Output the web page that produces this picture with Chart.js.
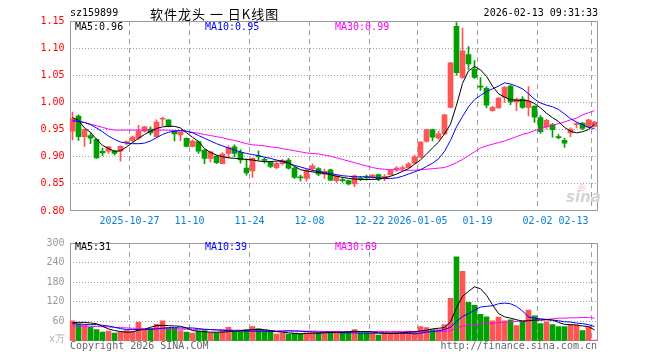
<!DOCTYPE html>
<html>
<head>
<meta charset="utf-8">
<script src="https://cdn.jsdelivr.net/npm/chart.js@4.4.1/dist/chart.umd.min.js"></script>
<style>
  body { margin: 0; background: #fff; }
  #wrap { position: relative; width: 660px; height: 360px; overflow: hidden;
          font-family: "DejaVu Sans Mono", monospace; font-size: 10px; }
  canvas { position: absolute; left: 0; }
  .t { position: absolute; white-space: pre; line-height: 10px; }
</style>
</head>
<body>
<div id="wrap">
  <canvas id="kline" width="660" height="232" style="top:0;width:660px;height:232px"></canvas>
  <canvas id="volume" width="660" height="128" style="top:232px;width:660px;height:128px"></canvas>

  <div class="t" style="left:70px;top:8px;color:#000">sz159899</div>
  <div class="t" style="left:150px;top:4px;line-height:15px;font:13px 'Noto Sans CJK SC',sans-serif;letter-spacing:1px;color:#000">软件龙头 一 日K线图</div>
  <div class="t" style="right:62px;top:8px;color:#000">2026-02-13 09:31:33</div>

  <div class="t" style="left:75px;top:22px;color:#000">MA5:0.96</div>
  <div class="t" style="left:205px;top:22px;color:#0000ff">MA10:0.95</div>
  <div class="t" style="left:335px;top:22px;color:#ff00ff">MA30:0.99</div>

  <div class="t" style="left:75px;top:242px;color:#000">MA5:31</div>
  <div class="t" style="left:205px;top:242px;color:#0000ff">MA10:39</div>
  <div class="t" style="left:335px;top:242px;color:#ff00ff">MA30:69</div>

  <div class="t" style="left:578px;top:183px;font:bold 9px 'DejaVu Sans',sans-serif;line-height:9px;color:#f3b0b0">◎</div>
  <div class="t" style="left:566px;top:190px;font:italic bold 15px 'DejaVu Sans',sans-serif;line-height:15px;color:#d4d4d4">sina</div>
  <div class="t" style="left:49px;top:334px;color:#aaa">x万</div>
  <div class="t" style="left:70px;top:341px;color:#666">Copyright 2026 SINA.COM</div>
  <div class="t" style="right:63px;top:341px;color:#666">http://finance.sina.com.cn</div>
</div>

<script>
// trading days shown on the chart
const dates = [
  '2025-10-13','2025-10-14','2025-10-15','2025-10-16','2025-10-17','2025-10-20','2025-10-21','2025-10-22','2025-10-23','2025-10-24',
  '2025-10-27','2025-10-28','2025-10-29','2025-10-30','2025-10-31','2025-11-03','2025-11-04','2025-11-05','2025-11-06','2025-11-07',
  '2025-11-10','2025-11-11','2025-11-12','2025-11-13','2025-11-14','2025-11-17','2025-11-18','2025-11-19','2025-11-20','2025-11-21',
  '2025-11-24','2025-11-25','2025-11-26','2025-11-27','2025-11-28','2025-12-01','2025-12-02','2025-12-03','2025-12-04','2025-12-05',
  '2025-12-08','2025-12-09','2025-12-10','2025-12-11','2025-12-12','2025-12-15','2025-12-16','2025-12-17','2025-12-18','2025-12-19',
  '2025-12-22','2025-12-23','2025-12-24','2025-12-25','2025-12-26','2025-12-29','2025-12-30','2025-12-31',
  '2026-01-05','2026-01-06','2026-01-07','2026-01-08','2026-01-09','2026-01-12','2026-01-13','2026-01-14','2026-01-15','2026-01-16',
  '2026-01-19','2026-01-20','2026-01-21','2026-01-22','2026-01-23','2026-01-26','2026-01-27','2026-01-28','2026-01-29','2026-01-30',
  '2026-02-02','2026-02-03','2026-02-04','2026-02-05','2026-02-06','2026-02-09','2026-02-10','2026-02-11','2026-02-12','2026-02-13'
];

const opens = [
  .947,.975,.937,.939,.932,.910,.910,.910,.910,.926,
  .930,.934,.947,.951,.937,.969,.968,.947,.940,.934,
  .919,.928,.912,.897,.901,.887,.906,.918,.908,.879,
  .874,.901,.895,.890,.880,.887,.894,.879,.862,.860,
  .878,.878,.868,.876,.856,.857,.856,.850,.860,.862,
  .862,.867,.862,.867,.877,.878,.880,.888,.899,.928,
  .950,.934,.942,.991,1.140,1.046,1.088,1.061,1.030,1.026,
  .985,.990,1.009,1.030,1.001,1.006,.991,.993,.972,.955,
  .959,.937,.930,.944,.959,.962,.955,.956
];
const highs = [
  .982,.977,.951,.944,.933,.916,.919,.912,.920,.929,
  .938,.958,.956,.955,.968,.973,.968,.948,.946,.935,
  .931,.929,.913,.910,.902,.907,.920,.922,.913,.896,
  .898,.911,.898,.891,.890,.895,.897,.881,.866,.877,
  .887,.880,.877,.877,.866,.861,.857,.866,.864,.866,
  .867,.868,.867,.876,.882,.883,.889,.903,.928,.951,
  .951,.947,.978,1.074,1.147,1.137,1.103,1.077,1.046,1.029,
  .993,1.009,1.029,1.032,1.008,1.011,1.029,.994,.976,.969,
  .961,.941,.934,.953,.963,.963,.969,.965
];
const lows = [
  .931,.930,.919,.924,.897,.902,.906,.903,.892,.922,
  .927,.932,.945,.940,.936,.957,.955,.929,.929,.918,
  .918,.906,.887,.890,.887,.887,.898,.900,.888,.866,
  .862,.893,.888,.880,.878,.885,.877,.860,.855,.855,
  .873,.865,.860,.856,.852,.853,.848,.845,.856,.857,
  .860,.856,.856,.866,.873,.875,.879,.887,.898,.927,
  .929,.932,.941,.990,1.050,1.044,1.061,1.044,1.022,.990,
  .984,.989,1.000,.996,.985,.989,.975,.963,.943,.951,
  .936,.933,.917,.937,.953,.950,.953,.955
];
const closes = [
  .970,.937,.950,.934,.898,.907,.918,.906,.919,.928,
  .936,.947,.955,.944,.964,.970,.956,.942,.945,.919,
  .929,.910,.897,.909,.889,.905,.917,.906,.894,.870,
  .897,.900,.893,.882,.888,.893,.879,.862,.861,.875,
  .883,.868,.873,.857,.865,.856,.850,.865,.859,.861,
  .866,.858,.864,.875,.878,.879,.887,.900,.927,.950,
  .936,.942,.977,1.073,1.055,1.095,1.071,1.046,1.028,.995,
  .991,1.008,1.028,1.001,1.006,.991,1.002,.973,.946,.967,
  .950,.935,.925,.951,.960,.952,.968,.964
];

// moving-average lines as drawn in the picture
const ma5 = [
  .972,.967,.953,.945,.932,.921,.915,.910,.911,.918,
  .926,.934,.941,.947,.952,.955,.956,.956,.953,.944,
  .936,.928,.915,.908,.903,.900,.898,.897,.896,.895,
  .894,.892,.891,.891,.892,.892,.889,.882,.876,.874,
  .872,.871,.869,.867,.864,.862,.860,.859,.858,.858,
  .858,.859,.861,.864,.868,.873,.878,.886,.894,.905,
  .916,.927,.942,.960,.995,1.035,1.058,1.066,1.060,1.048,
  1.030,1.016,1.010,1.005,1.004,1.004,1.003,.998,.990,.980,
  .972,.965,.954,.947,.944,.946,.950,.960
];
const ma10 = [
  .966,.965,.963,.959,.953,.946,.938,.932,.927,.925,
  .924,.924,.925,.929,.935,.941,.945,.947,.948,.947,
  .944,.939,.934,.929,.924,.920,.916,.912,.909,.906,
  .904,.902,.899,.897,.894,.891,.888,.884,.881,.878,
  .875,.873,.871,.869,.867,.865,.864,.863,.863,.863,
  .862,.861,.860,.860,.861,.864,.868,.872,.876,.882,
  .888,.896,.910,.930,.955,.974,.992,1.005,1.013,1.020,
  1.025,1.030,1.036,1.034,1.030,1.025,1.016,1.006,.999,.995,
  .992,.987,.979,.970,.964,.959,.954,.952
];
const ma30 = [
  .968,.966,.963,.960,.957,.954,.951,.949,.949,.949,
  .949,.949,.949,.949,.949,.949,.949,.948,.948,.947,
  .945,.943,.941,.939,.937,.935,.932,.930,.927,.924,
  .922,.921,.920,.918,.917,.915,.913,.911,.909,.907,
  .906,.905,.903,.901,.898,.895,.892,.889,.886,.883,
  .880,.878,.877,.876,.876,.875,.875,.875,.876,.877,
  .878,.879,.880,.884,.889,.895,.902,.909,.916,.920,
  .923,.926,.929,.933,.937,.941,.944,.948,.952,.955,
  .958,.961,.964,.968,.971,.977,.981,.985
];

// volume, in 万
const volumes = [
  62,52,49,42,35,27,30,24,27,32,
  29,57,35,39,51,62,40,39,32,27,
  24,30,32,25,25,32,42,29,29,35,
  44,38,32,29,21,24,21,24,22,25,
  25,25,25,29,28,28,28,35,26,26,
  26,18,26,26,26,26,30,29,44,41,
  35,35,50,131,258,213,118,109,82,74,
  62,73,62,65,47,60,95,77,53,59,
  50,44,44,49,49,32,44,3
];
const volMa5 = [
  56,57,57,55,53,45,37,32,29,27,
  28,33,36,42,47,48,47,46,45,40,
  32,30,28,27,27,27,29,30,31,33,
  35,35,35,32,29,27,25,23,22,23,
  24,24,25,26,27,27,28,30,29,29,
  28,25,24,23,24,25,27,28,31,33,
  37,39,41,58,102,137,152,166,160,140,
  111,84,74,70,65,61,62,64,64,65,
  64,57,51,50,49,46,44,34
];
const volMa10 = [
  53,52,51,50,50,48,46,42,38,35,
  35,35,35,36,37,39,41,41,40,40,
  40,38,36,35,34,33,32,31,31,30,
  30,30,30,29,29,30,31,31,30,29,
  28,27,27,27,26,25,25,25,24,24,
  24,24,24,24,24,24,23,22,24,27,
  29,31,35,42,60,75,84,94,104,106,
  108,114,116,114,106,92,73,70,68,66,
  64,62,59,58,55,53,50,44
];
const volMa30 = [
  46,46,45,45,44,44,43,42,41,40,
  39,39,38,38,38,37,37,37,36,36,
  36,35,35,35,34,34,34,33,33,33,
  33,32,32,32,31,31,31,30,30,30,
  30,30,29,29,29,29,29,29,29,29,
  29,29,29,29,29,29,29,29,29,29,
  29,29,29,32,40,45,48,50,52,54,
  55,56,57,59,60,61,63,64,65,66,
  68,70,70,71,71,72,72,70
];

// date axis labels
const xTickDates = ['2025-10-27','2025-11-10','2025-11-24','2025-12-08','2025-12-22','2026-01-05','2026-01-19','2026-02-02','2026-02-13'];
const xTickText  = ['2025-10-27','11-10','11-24','12-08','12-22','2026-01-05','01-19','02-02','02-13'];
const volTicks = [60, 120, 180, 240, 300];

const UP = '#ff5555';
const DOWN = '#00a000';
const GRID = '#a0a0a0';
const FONT = { family: 'DejaVu Sans Mono', size: 10 };

Chart.defaults.font.family = FONT.family;
Chart.defaults.font.size = FONT.size;

const candleColors = dates.map((d, i) => closes[i] >= opens[i] ? UP : DOWN);
const gridIdx = xTickDates.map(d => dates.indexOf(d));
// the last label is pulled back inside the frame
const labelAt = {};
gridIdx.forEach((idx, k) => { labelAt[Math.min(idx, dates.length - 4)] = xTickText[k]; });

const frame = {
  id: 'frame',
  beforeDatasetsDraw(chart) {
    const { ctx, chartArea: a } = chart;
    ctx.save();
    ctx.strokeStyle = '#999';
    ctx.lineWidth = 1;
    ctx.strokeRect(70.5, a.top + 0.5, 527, a.bottom - a.top - 1);
    ctx.restore();
  }
};

function xScale(showLabels, height) {
  return {
    offset: true,
    grid: {
      offset: true,
      drawTicks: false,
      color: ctx => gridIdx.includes(ctx.index) ? GRID : 'transparent'
    },
    border: { display: false, dash: [5, 4] },
    ticks: {
      display: showLabels,
      autoSkip: false,
      maxRotation: 0,
      padding: 4,
      labelOffset: -3,
      color: '#0a80d8',
      callback: (v, i) => labelAt[i] || ''
    },
    afterFit: s => { s.height = height; }
  };
}

function lineSet(label, data, color) {
  return { type: 'line', label, data, borderColor: color, borderWidth: 1,
           pointRadius: 0, fill: false, tension: 0, order: 0 };
}

new Chart(document.getElementById('kline'), {
  type: 'bar',
  data: {
    labels: dates,
    datasets: [
      lineSet('MA5', ma5, '#000000'),
      lineSet('MA10', ma10, '#0000ff'),
      lineSet('MA30', ma30, '#ff00ff'),
      {
        label: 'body',
        data: dates.map((d, i) => [opens[i], closes[i]]),
        backgroundColor: candleColors,
        barThickness: 5,
        minBarLength: 1,
        grouped: false,
        order: 1
      },
      {
        label: 'wick',
        data: dates.map((d, i) => [lows[i], highs[i]]),
        backgroundColor: candleColors,
        barThickness: 1,
        grouped: false,
        order: 2
      }
    ]
  },
  options: {
    responsive: false,
    animation: false,
    layout: { padding: { top: 21, right: 62.5, left: 0, bottom: 0 } },
    plugins: { legend: { display: false }, tooltip: { enabled: false } },
    scales: {
      x: xScale(true, 21),
      y: {
        min: 0.80,
        max: 1.15,
        ticks: { stepSize: 0.05, padding: 5, color: '#ff0000', callback: v => v.toFixed(2) },
        grid: {
          drawTicks: false,
          color: ctx => (ctx.index === 0 || ctx.index === 7) ? 'transparent' : GRID
        },
        border: { display: false, dash: [1, 2] },
        afterFit: s => { s.width = 69.5; }
      }
    }
  },
  plugins: [frame]
});

new Chart(document.getElementById('volume'), {
  type: 'bar',
  data: {
    labels: dates,
    datasets: [
      lineSet('MA5', volMa5, '#000000'),
      lineSet('MA10', volMa10, '#0000ff'),
      lineSet('MA30', volMa30, '#ff00ff'),
      {
        label: 'volume',
        data: volumes,
        backgroundColor: candleColors,
        barThickness: 5,
        grouped: false,
        order: 1
      }
    ]
  },
  options: {
    responsive: false,
    animation: false,
    layout: { padding: { top: 8, right: 62.5, left: 0, bottom: 0 } },
    plugins: { legend: { display: false }, tooltip: { enabled: false } },
    scales: {
      x: xScale(false, 19),
      y: {
        min: 0,
        max: 300,
        afterBuildTicks: s => { s.ticks = [0].concat(volTicks).map(v => ({ value: v })); },
        ticks: { padding: 5, color: '#999', callback: v => v === 0 ? '' : String(v) },
        grid: {
          drawTicks: false,
          color: ctx => (ctx.index === 0 || ctx.index === volTicks.length) ? 'transparent' : GRID
        },
        border: { display: false, dash: [1, 2] },
        afterFit: s => { s.width = 69.5; }
      }
    }
  },
  plugins: [frame]
});
</script>
</body>
</html>
